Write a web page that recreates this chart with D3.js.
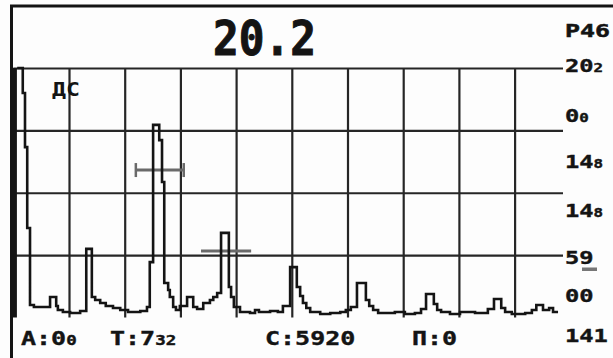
<!DOCTYPE html>
<html><head><meta charset="utf-8">
<script src="https://cdn.jsdelivr.net/npm/d3@7"></script>
<style>html,body{margin:0;padding:0;background:#fff;overflow:hidden}</style>
</head><body><svg id="c" width="613" height="358"></svg>
<script>
// A-scan trace: sweep position (% of screen width) and echo amplitude (% of screen height)
const traceSweep = [
  0.7, 1.7, 2.1, 2.5, 3.0, 3.7, 6.6, 7.7, 8.0, 8.9,
  10.2, 12.0, 13.1, 14.1, 14.7, 15.6, 16.6, 17.9, 19.2, 20.6,
  22.8, 24.0, 24.5, 25.1, 26.2, 26.7, 27.1, 27.8, 28.1, 28.7,
  29.2, 29.9, 31.2, 32.3, 33.0, 34.1, 35.3, 35.9, 36.6, 37.3,
  38.7, 39.1, 39.6, 40.7, 42.5, 43.4, 44.1, 46.1, 47.5, 48.4,
  49.7, 50.9, 51.5, 52.0, 52.6, 53.3, 55.1, 56.9, 58.7, 59.7,
  60.6, 61.7, 63.3, 63.9, 64.6, 65.5, 68.5, 70.3, 72.1, 73.2,
  74.1, 75.5, 76.1, 76.8, 78.4, 80.2, 82.9, 85.2, 86.3, 87.6,
  88.3, 89.5, 91.9, 93.1, 93.9, 95.1, 96.2, 96.9, 97.8
];
const traceAmp = [
  100, 90.0, 68.3, 35.9, 5.0, 4.2, 8.2, 4.6, 3.0, 2.2,
  1.8, 2.6, 27.5, 8.2, 7.0, 5.8, 4.6, 3.8, 3.0, 2.2,
  2.6, 4.2, 22.2, 77.2, 71.1, 54.3, 13.8, 11.0, 8.2, 4.2,
  3.0, 4.6, 8.2, 4.2, 3.4, 5.8, 7.0, 8.2, 9.8, 33.9,
  12.2, 8.2, 4.2, 2.2, 1.8, 3.0, 2.2, 2.6, 2.2, 4.6,
  20.2, 12.2, 8.6, 5.8, 3.8, 2.2, 1.4, 1.8, 2.2, 3.0,
  4.2, 13.8, 7.0, 4.6, 3.0, 1.8, 2.2, 1.4, 1.8, 3.4,
  9.4, 5.4, 3.0, 2.2, 1.4, 2.2, 1.8, 3.4, 7.4, 3.8,
  2.2, 1.4, 1.8, 3.0, 5.0, 3.0, 3.8, 2.2, 2.2
];
const initialPulseSweep = 0.2;
const initialPulseAmp = 100;

// gates
const gateStart = [22.0, 33.7];
const gateEnd   = [30.6, 42.7];
const gateLevel = [59.1, 26.7];
const gateHasTicks = [true, false];

// grid
const xGridValues = [10, 20, 30, 40, 50, 60, 70, 80, 90];
const yGridValues = [25, 50, 75, 100];

// texts
const titleText = "20.2";
const headerRight = "P46";
const markerText = "ДС";
const sideMain  = ["20", "0", "14", "14", "59", "00", "141"];
const sideSmall = ["2",  "0", "8",  "8",  "",   "",   ""];
const footerMain  = ["A:0", "T:7", "C:5920", "П:0"];
const footerSmall = ["0",   "32",  "",       ""];

const svg = d3.select("#c");
const FONT = "'DejaVu Sans Mono', monospace";
const INK = "#141414";

const x = d3.scaleLinear().domain([0, 100]).range([13.3, 570.3]);
const y = d3.scaleLinear().domain([0, 100]).range([317.5, 68]);

svg.append("rect").attr("width", 613).attr("height", 358).attr("fill", "#fdfdfd");

// frame
svg.append("line").attr("x1", 10).attr("x2", 613).attr("y1", 6).attr("y2", 6)
  .attr("stroke", INK).attr("stroke-width", 3);
svg.append("line").attr("x1", 11.5).attr("x2", 11.5).attr("y1", 5).attr("y2", 358)
  .attr("stroke", INK).attr("stroke-width", 3);

// vertical grid via axis
const gx = svg.append("g").attr("transform", `translate(0,${y(100)})`)
  .call(d3.axisBottom(x).tickValues(xGridValues).tickSize(y(0) - y(100)).tickFormat(""));
gx.select(".domain").remove();
gx.selectAll(".tick line").attr("stroke", "#262626").attr("stroke-width", 2.2);

// horizontal grid via axis
const hEnd = 563;
const gy = svg.append("g").attr("transform", `translate(${x(0)},0)`)
  .call(d3.axisRight(y).tickValues(yGridValues).tickSize(hEnd - x(0)).tickFormat(""));
gy.select(".domain").remove();
gy.selectAll(".tick line").attr("stroke", "#262626").attr("stroke-width", 2.2);

// initial pulse (thick bar at left)
svg.append("line")
  .attr("x1", x(initialPulseSweep)).attr("x2", x(initialPulseSweep))
  .attr("y1", y(0)).attr("y2", y(initialPulseAmp))
  .attr("stroke", INK).attr("stroke-width", 5);

// gates
gateStart.forEach((s, i) => {
  const g = svg.append("g").attr("stroke", "#6a6a6a").attr("stroke-width", 3);
  g.append("line").attr("x1", x(s)).attr("x2", x(gateEnd[i]))
    .attr("y1", y(gateLevel[i])).attr("y2", y(gateLevel[i]));
  if (gateHasTicks[i]) {
    [s, gateEnd[i]].forEach(v => {
      g.append("line").attr("x1", x(v)).attr("x2", x(v))
        .attr("y1", y(gateLevel[i]) - 7).attr("y2", y(gateLevel[i]) + 7)
        .attr("stroke-width", 2.5);
    });
  }
});

// trace
const pts = traceSweep.map((s, i) => [s, traceAmp[i]]);
svg.append("path")
  .attr("d", d3.line().x(d => x(d[0])).y(d => y(d[1])).curve(d3.curveStepAfter)(pts))
  .attr("fill", "none").attr("stroke", INK).attr("stroke-width", 2.6)
  .attr("stroke-linejoin", "miter");

// title
svg.append("text").attr("x", 213).attr("y", 55)
  .attr("font-family", FONT).attr("font-weight", "bold").attr("font-size", 48)
  .attr("textLength", 103).attr("lengthAdjust", "spacingAndGlyphs")
  .attr("stroke", INK).attr("stroke-width", 1)
  .attr("fill", INK).text(titleText);

// header right
svg.append("text").attr("x", 565).attr("y", 37)
  .attr("font-family", FONT).attr("font-weight", "bold").attr("font-size", 18)
  .attr("textLength", 45).attr("lengthAdjust", "spacingAndGlyphs")
  .attr("stroke", INK).attr("stroke-width", 0.5)
  .attr("fill", INK).text(headerRight);

// marker
svg.append("text").attr("x", 52).attr("y", 96)
  .attr("font-family", FONT).attr("font-weight", "bold").attr("font-size", 19)
  .attr("textLength", 28).attr("lengthAdjust", "spacingAndGlyphs")
  .attr("fill", INK).text(markerText);

// side labels (wide LCD-style lettering via horizontal scale)
const sideBaselines = [72, 122, 168, 217, 264, 302, 342];
sideMain.forEach((t, i) => {
  const tx = svg.append("text")
    .attr("transform", `translate(565,${sideBaselines[i]}) scale(1.32,1)`)
    .attr("font-family", FONT).attr("font-weight", "bold").attr("font-size", 18)
    .attr("stroke", INK).attr("stroke-width", 0.4)
    .attr("fill", INK);
  tx.append("tspan").text(t);
  if (sideSmall[i]) tx.append("tspan").attr("font-size", 12).text(sideSmall[i]);
});
// underline below side value 59
svg.append("rect").attr("x", 582).attr("y", 267.5).attr("width", 15).attr("height", 3.5).attr("fill", "#777");

// footer
const footerX = [21, 110, 265, 412];
footerMain.forEach((t, i) => {
  const tx = svg.append("text")
    .attr("transform", `translate(${footerX[i]},345) scale(1.25,1)`)
    .attr("font-family", FONT).attr("font-weight", "bold").attr("font-size", 20)
    .attr("stroke", INK).attr("stroke-width", 0.4)
    .attr("fill", INK);
  tx.append("tspan").text(t);
  if (footerSmall[i]) tx.append("tspan").attr("font-size", 14).text(footerSmall[i]);
});
</script></body></html>
